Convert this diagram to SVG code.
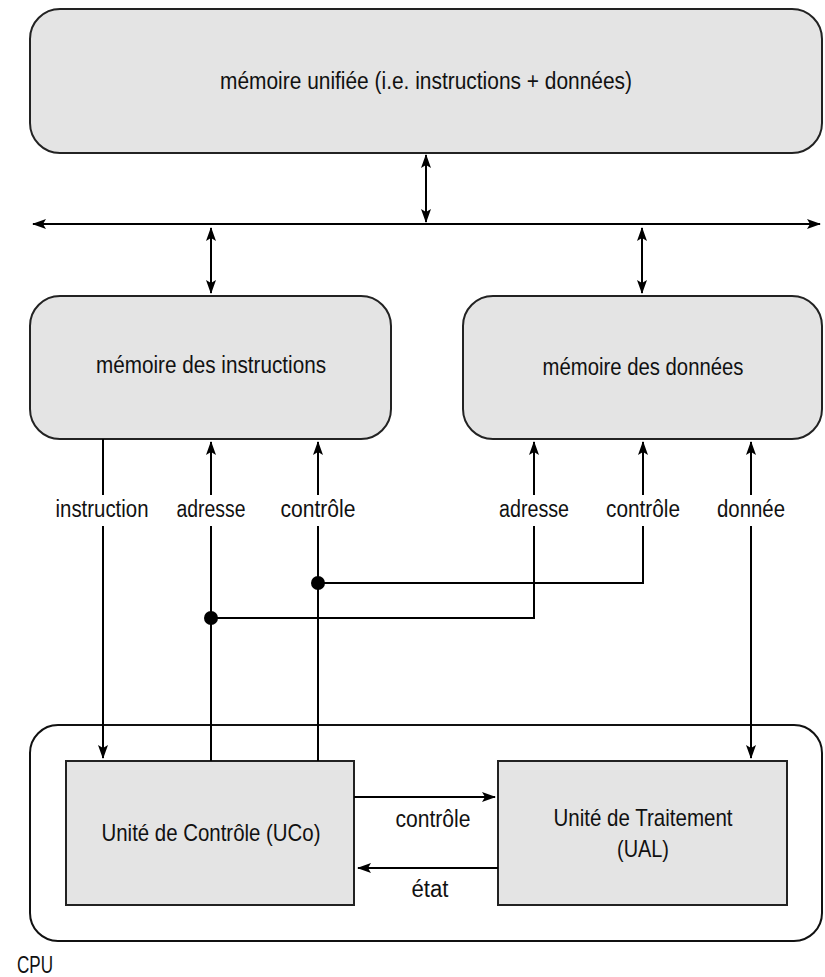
<svg xmlns="http://www.w3.org/2000/svg" width="825" height="977" viewBox="0 0 825 977">
<style>
.box{fill:#e4e4e4;stroke:#222;stroke-width:2}
.cpu{fill:#fff;stroke:#111;stroke-width:2}
.ln{fill:none;stroke:#000;stroke-width:2}
.t{font-family:"Liberation Sans",Arial,sans-serif;font-size:23px;fill:#111;text-anchor:middle}
.tb{font-family:"Liberation Sans",Arial,sans-serif;font-size:24px;fill:#111;text-anchor:middle}
</style>
<defs>
<marker id="ah" viewBox="0 0 14 10" refX="13" refY="5" markerWidth="14" markerHeight="10" markerUnits="userSpaceOnUse" orient="auto-start-reverse">
<path d="M0,0 L14,5 L0,10 L3,5 Z" fill="#000"/>
</marker>
</defs>
<rect width="825" height="977" fill="#fff"/>
<g id="mem-unifiee">
<rect class="box" x="30" y="9" width="792" height="144" rx="30"/>
<text class="t" x="426" y="89" textLength="412" lengthAdjust="spacingAndGlyphs">mémoire unifiée (i.e. instructions + données)</text>
</g>
<g id="mem-instructions">
<rect class="box" x="30" y="296" width="361" height="143" rx="30"/>
<text class="t" x="211" y="373" textLength="230" lengthAdjust="spacingAndGlyphs">mémoire des instructions</text>
</g>
<g id="mem-donnees">
<rect class="box" x="463" y="296" width="359" height="143" rx="30"/>
<text class="t" x="643" y="375" textLength="201" lengthAdjust="spacingAndGlyphs">mémoire des données</text>
</g>
<g id="cpu">
<rect class="cpu" x="30" y="725" width="792" height="216" rx="28"/>
<text class="tb" x="17" y="973" style="text-anchor:start" textLength="36" lengthAdjust="spacingAndGlyphs">CPU</text>
</g>
<g id="uco">
<rect class="box" x="66" y="761" width="288" height="144"/>
<text class="tb" x="211" y="841" textLength="219" lengthAdjust="spacingAndGlyphs">Unité de Contrôle (UCo)</text>
</g>
<g id="ut">
<rect class="box" x="498" y="761" width="289" height="144"/>
<text class="tb" x="643" y="826" textLength="179" lengthAdjust="spacingAndGlyphs">Unité de Traitement</text>
<text class="tb" x="643" y="857" textLength="52" lengthAdjust="spacingAndGlyphs">(UAL)</text>
</g>
<g id="connectors">
<line class="ln" x1="426" y1="155" x2="426" y2="222" marker-start="url(#ah)" marker-end="url(#ah)"/>
<line class="ln" x1="33" y1="224" x2="820" y2="224" marker-start="url(#ah)" marker-end="url(#ah)"/>
<line class="ln" x1="211" y1="228" x2="211" y2="293" marker-start="url(#ah)" marker-end="url(#ah)"/>
<line class="ln" x1="642" y1="228" x2="642" y2="293" marker-start="url(#ah)" marker-end="url(#ah)"/>
<line class="ln" x1="103" y1="439" x2="103" y2="495"/>
<line class="ln" x1="103" y1="526" x2="103" y2="758" marker-end="url(#ah)"/>
<text class="t" x="102" y="517" textLength="93" lengthAdjust="spacingAndGlyphs">instruction</text>
<line class="ln" x1="211" y1="495" x2="211" y2="442" marker-end="url(#ah)"/>
<line class="ln" x1="211" y1="526" x2="211" y2="761"/>
<text class="t" x="211" y="517" textLength="69" lengthAdjust="spacingAndGlyphs">adresse</text>
<line class="ln" x1="318" y1="495" x2="318" y2="442" marker-end="url(#ah)"/>
<line class="ln" x1="318" y1="526" x2="318" y2="761"/>
<text class="t" x="318" y="517" textLength="75" lengthAdjust="spacingAndGlyphs">contrôle</text>
<line class="ln" x1="534" y1="495" x2="534" y2="442" marker-end="url(#ah)"/>
<polyline class="ln" points="534,526 534,618 211,618"/>
<text class="t" x="534" y="517" textLength="70" lengthAdjust="spacingAndGlyphs">adresse</text>
<line class="ln" x1="643" y1="495" x2="643" y2="442" marker-end="url(#ah)"/>
<polyline class="ln" points="643,526 643,583 318,583"/>
<text class="t" x="643" y="517" textLength="74" lengthAdjust="spacingAndGlyphs">contrôle</text>
<line class="ln" x1="751" y1="495" x2="751" y2="442" marker-end="url(#ah)"/>
<line class="ln" x1="751" y1="526" x2="751" y2="758" marker-end="url(#ah)"/>
<text class="t" x="751" y="517" textLength="68" lengthAdjust="spacingAndGlyphs">donnée</text>
<circle cx="211" cy="618" r="7" fill="#000"/>
<circle cx="318" cy="583" r="7" fill="#000"/>
<line class="ln" x1="354" y1="797" x2="495" y2="797" marker-end="url(#ah)"/>
<text class="t" x="433" y="827" textLength="75" lengthAdjust="spacingAndGlyphs">contrôle</text>
<line class="ln" x1="498" y1="868" x2="358" y2="868" marker-end="url(#ah)"/>
<text class="t" x="430" y="897" textLength="37" lengthAdjust="spacingAndGlyphs">état</text>
</g>
</svg>
